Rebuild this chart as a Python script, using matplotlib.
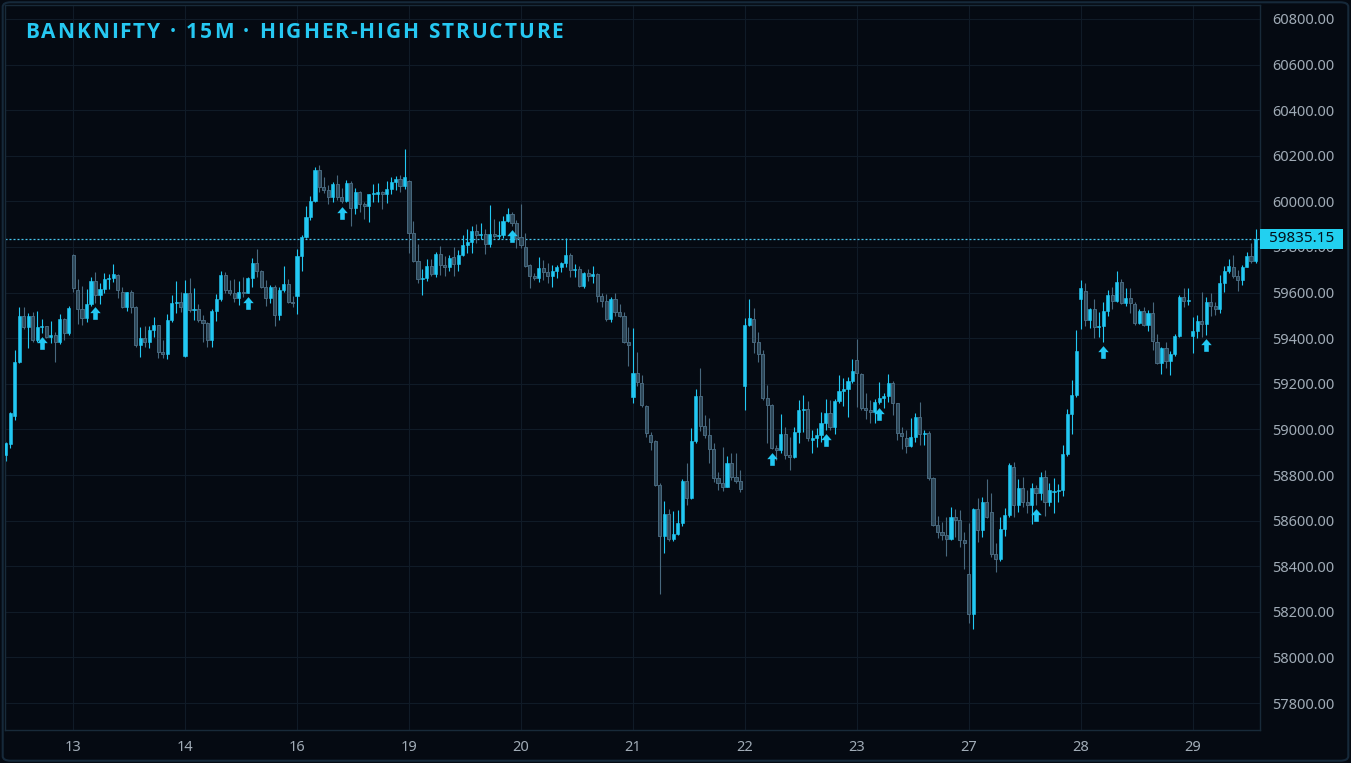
import numpy as np
import matplotlib
matplotlib.use("Agg")
import matplotlib.pyplot as plt
import matplotlib.transforms as mtransforms
from matplotlib.path import Path
from matplotlib.patches import Rectangle, FancyBboxPatch

# ---- data (15m candles) ----
day_labels = ['13', '14', '16', '19', '20', '21', '22', '23', '27', '28', '29']
day_start = [15, 40, 65, 90, 115, 140, 165, 190, 215, 240, 265]

opens = [
    58888, 58936, 59060, 59297, 59497, 59448, 59497, 59392, 59448, 59452,
    59406, 59414, 59385, 59484, 59421, 59765, 59610, 59527, 59487, 59550,
    59652, 59590, 59614, 59658, 59662, 59677, 59604, 59538, 59601, 59536,
    59370, 59400, 59385, 59436, 59458, 59341, 59330, 59480, 59553, 59557,
    59323, 59600, 59524, 59528, 59480, 59465, 59392, 59521, 59571, 59677,
    59611, 59600, 59575, 59604, 59600, 59663, 59728, 59696, 59626, 59575,
    59626, 59502, 59611, 59638, 59560, 59585, 59761, 59845, 59930, 60003,
    60138, 60062, 60048, 60018, 60075, 60020, 60002, 60079, 59970, 60043,
    59987, 59980, 60031, 60034, 60040, 60031, 60053, 60086, 60098, 60069,
    60089, 59860, 59740, 59658, 59663, 59717, 59682, 59769, 59721, 59713,
    59757, 59726, 59765, 59809, 59823, 59871, 59853, 59857, 59813, 59856,
    59848, 59853, 59914, 59945, 59907, 59845, 59799, 59721, 59674, 59663,
    59707, 59690, 59673, 59696, 59711, 59728, 59765, 59699, 59702, 59629,
    59685, 59673, 59682, 59585, 59565, 59483, 59571, 59516, 59497, 59385,
    59141, 59249, 59205, 59103, 58975, 58950, 58756, 58532, 58629, 58518,
    58541, 58591, 58775, 58698, 58950, 59146, 59015, 58975, 58913, 58786,
    58764, 58749, 58851, 58790, 58775, 59192, 59458, 59484, 59385, 59331,
    59136, 59105, 58917, 58911, 58980, 58888, 58878, 58990, 59085, 59088,
    58955, 58961, 58975, 59029, 59071, 59012, 59126, 59170, 59176, 59214,
    59304, 59245, 59092, 59085, 59078, 59122, 59139, 59146, 59205, 59114,
    58986, 58961, 58927, 58965, 59056, 58982, 58986, 58786, 58581, 58551,
    58537, 58518, 58617, 58603, 58515, 58366, 58190, 58650, 58559, 58683,
    58640, 58454, 58430, 58562, 58625, 58834, 58668, 58742, 58683, 58668,
    58742, 58722, 58793, 58683, 58724, 58729, 58734, 58891, 59068, 59151,
    59571, 59608, 59480, 59527, 59448, 59452, 59521, 59590, 59564, 59645,
    59556, 59575, 59550, 59468, 59521, 59458, 59512, 59385, 59293, 59356,
    59301, 59331, 59410, 59582, 59564, 59411, 59433, 59477, 59463, 59560,
    59541, 59527, 59643, 59696, 59714, 59673, 59655, 59714, 59761, 59740,
]
highs = [
    58946, 59075, 59348, 59538, 59537, 59512, 59516, 59521, 59484, 59455,
    59475, 59428, 59506, 59490, 59540, 59770, 59658, 59629, 59614, 59667,
    59692, 59641, 59685, 59680, 59725, 59680, 59626, 59604, 59610, 59540,
    59448, 59453, 59453, 59492, 59460, 59392, 59506, 59590, 59651, 59604,
    59655, 59663, 59619, 59550, 59502, 59470, 59530, 59594, 59696, 59690,
    59655, 59658, 59652, 59670, 59670, 59750, 59790, 59700, 59655, 59633,
    59633, 59626, 59717, 59658, 59585, 59790, 59853, 59980, 60024, 60152,
    60160, 60108, 60072, 60085, 60116, 60057, 60094, 60091, 60060, 60046,
    59998, 60033, 60075, 60082, 60046, 60091, 60108, 60111, 60116, 60229,
    60094, 59914, 59813, 59702, 59746, 59746, 59777, 59804, 59761, 59765,
    59799, 59787, 59853, 59878, 59892, 59901, 59907, 59878, 59984, 59921,
    59915, 59936, 59970, 59955, 59918, 59989, 59860, 59726, 59685, 59757,
    59743, 59729, 59721, 59721, 59736, 59838, 59772, 59725, 59717, 59692,
    59702, 59717, 59687, 59600, 59594, 59582, 59597, 59550, 59516, 59448,
    59443, 59341, 59239, 59107, 58990, 58955, 58763, 58687, 58650, 58643,
    58646, 58781, 58851, 59005, 59176, 59268, 59063, 59049, 58939, 58815,
    58924, 58883, 58895, 58898, 58822, 59487, 59571, 59531, 59428, 59348,
    59195, 59112, 58932, 59068, 59009, 58968, 59009, 59129, 59151, 59126,
    58997, 59005, 59078, 59132, 59129, 59132, 59239, 59224, 59231, 59307,
    59395, 59249, 59158, 59129, 59132, 59209, 59161, 59243, 59214, 59118,
    59009, 58997, 59049, 59073, 59122, 58997, 58994, 58790, 58620, 58595,
    58617, 58658, 58650, 58646, 58551, 58591, 58655, 58698, 58705, 58781,
    58722, 58500, 58615, 58654, 58854, 58858, 58781, 58793, 58734, 58766,
    58756, 58815, 58822, 58766, 58786, 58761, 58932, 59088, 59217, 59436,
    59655, 59641, 59531, 59571, 59516, 59560, 59611, 59623, 59696, 59658,
    59619, 59619, 59560, 59527, 59535, 59524, 59560, 59418, 59360, 59385,
    59345, 59418, 59590, 59619, 59619, 59494, 59502, 59604, 59579, 59600,
    59560, 59677, 59717, 59746, 59765, 59699, 59721, 59779, 59819, 59878,
]
lows = [
    58863, 58917, 59041, 59290, 59440, 59356, 59385, 59385, 59421, 59400,
    59378, 59297, 59374, 59392, 59415, 59604, 59462, 59458, 59472, 59540,
    59556, 59550, 59597, 59614, 59648, 59575, 59531, 59519, 59509, 59363,
    59319, 59360, 59358, 59407, 59312, 59312, 59307, 59472, 59509, 59516,
    59319, 59516, 59480, 59472, 59385, 59363, 59360, 59477, 59565, 59597,
    59590, 59560, 59546, 59582, 59597, 59626, 59670, 59619, 59541, 59553,
    59453, 59480, 59604, 59553, 59538, 59506, 59696, 59840, 59918, 59998,
    60043, 60036, 59989, 59998, 60006, 59992, 59998, 59892, 59945, 59955,
    59921, 59911, 59998, 59998, 59965, 59994, 60031, 60050, 60043, 60053,
    59775, 59734, 59643, 59590, 59652, 59673, 59670, 59677, 59673, 59696,
    59673, 59696, 59760, 59775, 59775, 59816, 59834, 59769, 59801, 59838,
    59834, 59838, 59910, 59892, 59794, 59794, 59714, 59619, 59655, 59648,
    59655, 59643, 59626, 59663, 59692, 59711, 59670, 59667, 59623, 59619,
    59652, 59643, 59560, 59535, 59477, 59472, 59497, 59492, 59380, 59278,
    59117, 59190, 59100, 58968, 58910, 58752, 58278, 58457, 58512, 58510,
    58537, 58576, 58668, 58693, 58940, 58994, 58961, 58854, 58771, 58734,
    58731, 58746, 58778, 58764, 58727, 59085, 59455, 59334, 59297, 59129,
    58942, 58913, 58866, 58895, 58869, 58822, 58873, 58942, 58990, 58950,
    58898, 58924, 58946, 58997, 58997, 58980, 59114, 59103, 59056, 59202,
    59097, 59085, 59044, 59027, 59029, 59112, 59092, 59122, 59063, 58954,
    58913, 58895, 58922, 58946, 58932, 58932, 58778, 58576, 58522, 58515,
    58445, 58515, 58530, 58486, 58386, 58150, 58123, 58507, 58527, 58610,
    58439, 58376, 58424, 58532, 58617, 58617, 58639, 58661, 58632, 58585,
    58668, 58690, 58620, 58664, 58635, 58683, 58708, 58885, 58980, 59143,
    59439, 59453, 59443, 59400, 59407, 59385, 59497, 59527, 59560, 59550,
    59541, 59509, 59458, 59462, 59453, 59433, 59348, 59287, 59243, 59268,
    59239, 59322, 59404, 59535, 59546, 59334, 59400, 59407, 59414, 59497,
    59502, 59512, 59604, 59687, 59663, 59608, 59633, 59710, 59731, 59731,
]
closes = [
    58940, 59071, 59297, 59497, 59448, 59497, 59392, 59448, 59452, 59406,
    59414, 59385, 59484, 59421, 59531, 59619, 59527, 59487, 59550, 59652,
    59590, 59614, 59658, 59662, 59682, 59611, 59538, 59601, 59538, 59370,
    59400, 59385, 59436, 59458, 59341, 59330, 59480, 59553, 59557, 59535,
    59600, 59524, 59528, 59480, 59465, 59392, 59521, 59571, 59677, 59611,
    59600, 59575, 59604, 59600, 59663, 59728, 59696, 59626, 59575, 59626,
    59502, 59611, 59638, 59560, 59553, 59761, 59845, 59930, 60003, 60138,
    60062, 60048, 60018, 60075, 60020, 60002, 60079, 59970, 60043, 59987,
    59980, 60031, 60034, 60040, 60031, 60053, 60086, 60098, 60069, 60106,
    59860, 59740, 59658, 59663, 59717, 59682, 59769, 59721, 59713, 59750,
    59726, 59765, 59809, 59823, 59871, 59853, 59857, 59813, 59856, 59848,
    59853, 59914, 59945, 59907, 59838, 59809, 59717, 59674, 59663, 59707,
    59690, 59673, 59696, 59711, 59728, 59765, 59699, 59702, 59629, 59685,
    59673, 59682, 59585, 59565, 59483, 59571, 59516, 59497, 59385, 59370,
    59249, 59209, 59107, 58983, 58946, 58756, 58532, 58629, 58518, 58541,
    58591, 58775, 58698, 58950, 59146, 59015, 58975, 58913, 58786, 58764,
    58749, 58851, 58790, 58775, 58737, 59458, 59487, 59385, 59331, 59136,
    59107, 58917, 58911, 58980, 58888, 58878, 58990, 59085, 59088, 58961,
    58961, 58975, 59029, 59071, 59012, 59126, 59170, 59176, 59214, 59257,
    59249, 59092, 59085, 59078, 59122, 59139, 59146, 59205, 59114, 58986,
    58971, 58927, 58965, 59056, 58980, 58986, 58786, 58581, 58551, 58537,
    58518, 58617, 58603, 58515, 58500, 58190, 58650, 58559, 58683, 58617,
    58454, 58430, 58562, 58625, 58844, 58668, 58742, 58683, 58668, 58742,
    58722, 58793, 58683, 58734, 58729, 58734, 58891, 59068, 59151, 59345,
    59619, 59480, 59527, 59448, 59452, 59521, 59590, 59564, 59645, 59556,
    59575, 59556, 59468, 59521, 59458, 59509, 59389, 59293, 59356, 59301,
    59331, 59410, 59582, 59564, 59568, 59433, 59477, 59463, 59560, 59541,
    59527, 59643, 59696, 59717, 59673, 59655, 59714, 59761, 59740, 59835.15,
]
hh_marks = [8, 20, 54, 75, 113, 171, 183, 195, 230, 245, 268]
y_ticks = list(range(57800, 60801, 200))

# ---- style ----
BG = '#050a12'
GRID = '#101b27'
SPINE = '#182a39'
BULL = '#22c8f3'
BEAR_FACE = '#2d4657'
BEAR_EDGE = '#48687e'
TXT = '#a0abb6'
W, H = 1351, 763

plt.rcParams['font.family'] = ['Noto Sans', 'DejaVu Sans']

fig = plt.figure(figsize=(W / 100, H / 100), dpi=100, facecolor=BG)
ax = fig.add_axes([5 / W, 1 - 730 / H, 1255 / W, 725 / H])
ax.set_facecolor(BG)

o = np.array(opens, float)
c = np.array(closes, float)
h = np.array(highs, float)
l = np.array(lows, float)
x = np.arange(len(c))
up = c >= o

body_lo = np.minimum(o, c)
body_h = np.maximum(np.abs(c - o), 4.0)

ax.vlines(x[up], l[up], h[up], color=BULL, lw=0.8, zorder=2)
ax.vlines(x[~up], l[~up], h[~up], color=BEAR_EDGE, lw=0.8, zorder=2)
ax.bar(x[up], body_h[up], bottom=body_lo[up], width=0.7,
       color=BULL, edgecolor=BULL, lw=0.4, zorder=3)
ax.bar(x[~up], body_h[~up], bottom=body_lo[~up], width=0.7,
       color=BEAR_FACE, edgecolor=BEAR_EDGE, lw=0.7, zorder=3)

# higher-high arrows under the candles
arrow = Path([(0, -3.5), (5.0, -9.3), (2.2, -9.3), (2.2, -15.7), (-2.2, -15.7),
              (-2.2, -9.3), (-5.0, -9.3), (0, -3.5)], closed=True)
ax.plot(hh_marks, l[hh_marks], ls='none', marker=arrow, ms=23.5,
        mfc=BULL, mec=BULL, mew=0, zorder=4)

last = closes[-1]
ax.axhline(last, color='#48c6ee', lw=0.9, ls=(0, (1.6, 1.6)), zorder=1.8)

ax.set_xlim(-0.2, 280)
ax.set_ylim(57682, 60861)

ax.set_yticks(y_ticks)
ax.set_yticklabels([f'{v:.2f}' for v in y_ticks])
ax.yaxis.tick_right()
ax.set_xticks(day_start)
ax.set_xticklabels(day_labels)
ax.tick_params(axis='y', length=0, pad=8.5, labelcolor=TXT, labelsize=10.5)
ax.tick_params(axis='x', length=0, pad=7, labelcolor=TXT, labelsize=10.5)
ax.grid(True, color=GRID, lw=0.8, zorder=0)
ax.set_axisbelow(True)
for s in ax.spines.values():
    s.set_color(SPINE)
    s.set_linewidth(1.0)

# last price tag (sits over the 59800 label, as in the original)
trans = mtransforms.blended_transform_factory(ax.transAxes, ax.transData)
ax.add_patch(Rectangle((1.0, last - 42), 83 / 1255, 84, transform=trans,
                       fc='#22d0f0', ec='none', clip_on=False, zorder=10))
ax.text(1.0 + 42 / 1255, last, f'{last:.2f}', transform=trans, ha='center',
        va='center', fontsize=11, color='#03101a', zorder=11, clip_on=False)

# title, letter-spaced to span the same width as the original
fig.canvas.draw()
r = fig.canvas.get_renderer()
title = 'BANKNIFTY · 15M · HIGHER-HIGH STRUCTURE'
tfont = dict(color='#26c8f2', fontsize=15, fontweight='bold',
             family=['Open Sans', 'DejaVu Sans'], va='center', ha='left')
chars = []
widths = []
for ch in title:
    t = fig.text(0, 1 - 32 / H, ch, **tfont)
    chars.append(t)
    widths.append(6.0 if ch == ' ' else t.get_window_extent(r).width)
gap = (538 - sum(widths)) / (len(title) - 1)
tx = 25
for t, w in zip(chars, widths):
    t.set_x(tx / W)
    tx += w + gap

# outer frame
fig.patches.append(FancyBboxPatch((0.002, 0.003), 0.996, 0.994,
                                  boxstyle='round,pad=0,rounding_size=0.006',
                                  transform=fig.transFigure, fc='none',
                                  ec='#16293a', lw=1.5))

fig.savefig('out.png', dpi=100, facecolor=BG)
